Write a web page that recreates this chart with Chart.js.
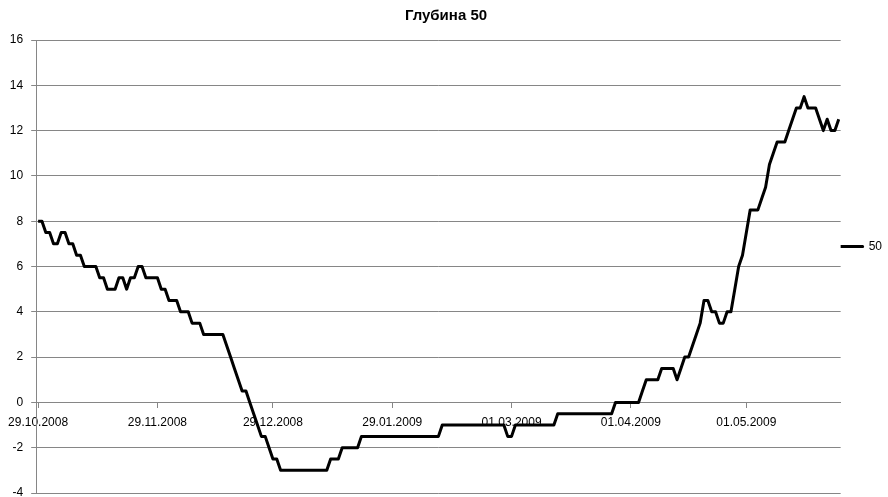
<!DOCTYPE html>
<html>
<head>
<meta charset="utf-8">
<script src="https://cdn.jsdelivr.net/npm/chart.js@4.4.1/dist/chart.umd.min.js"></script>
<style>
html, body { margin: 0; padding: 0; background: #fff; }
</style>
</head>
<body>
<canvas id="myChart" width="888" height="497"></canvas>
<script>
const titol = 'Глубина 50';
const serie = '50';

// first day of the series and number of daily readings
const dataInici = [2008, 10, 29];
const numDies = 209;

// dates that get a label on the x axis
const etiquetesEix = ['29.10.2008', '29.11.2008', '29.12.2008', '29.01.2009', '01.03.2009', '01.04.2009', '01.05.2009'];

// one value per day
const valors = [
    8, 8, 7.5, 7.5, 7, 7, 7.5, 7.5, 7, 7,
    6.5, 6.5, 6, 6, 6, 6, 5.5, 5.5, 5, 5,
    5, 5.5, 5.5, 5, 5.5, 5.5, 6, 6, 5.5, 5.5,
    5.5, 5.5, 5, 5, 4.5, 4.5, 4.5, 4, 4, 4,
    3.5, 3.5, 3.5, 3, 3, 3, 3, 3, 3, 2.5,
    2, 1.5, 1, 0.5, 0.5, 0, -0.5, -1, -1.5, -1.5,
    -2, -2.5, -2.5, -3, -3, -3, -3, -3, -3, -3,
    -3, -3, -3, -3, -3, -3, -2.5, -2.5, -2.5, -2,
    -2, -2, -2, -2, -1.5, -1.5, -1.5, -1.5, -1.5, -1.5,
    -1.5, -1.5, -1.5, -1.5, -1.5, -1.5, -1.5, -1.5, -1.5, -1.5,
    -1.5, -1.5, -1.5, -1.5, -1.5, -1, -1, -1, -1, -1,
    -1, -1, -1, -1, -1, -1, -1, -1, -1, -1,
    -1, -1, -1.5, -1.5, -1, -1, -1, -1, -1, -1,
    -1, -1, -1, -1, -1, -0.5, -0.5, -0.5, -0.5, -0.5,
    -0.5, -0.5, -0.5, -0.5, -0.5, -0.5, -0.5, -0.5, -0.5, -0.5,
    0, 0, 0, 0, 0, 0, 0, 0.5, 1, 1,
    1, 1, 1.5, 1.5, 1.5, 1.5, 1, 1.5, 2, 2,
    2.5, 3, 3.5, 4.5, 4.5, 4, 4, 3.5, 3.5, 4,
    4, 5, 6, 6.5, 7.5, 8.5, 8.5, 8.5, 9, 9.5,
    10.5, 11, 11.5, 11.5, 11.5, 12, 12.5, 13, 13, 13.5,
    13, 13, 13, 12.5, 12, 12.5, 12, 12, 12.5
];

const font = { family: 'Liberation Sans', size: 12 };

function dies() {
    const d = new Date(Date.UTC(dataInici[0], dataInici[1] - 1, dataInici[2]));
    const out = [];
    for (let i = 0; i < numDies; i++) {
        const dd = String(d.getUTCDate()).padStart(2, '0');
        const mm = String(d.getUTCMonth() + 1).padStart(2, '0');
        out.push(dd + '.' + mm + '.' + d.getUTCFullYear());
        d.setUTCDate(d.getUTCDate() + 1);
    }
    return out;
}

function pintar() {
    const ctx = document.getElementById('myChart').getContext('2d');
    new Chart(ctx, {
        type: 'line',
        data: {
            labels: dies(),
            datasets: [
                {
                    label: serie,
                    data: valors,
                    borderColor: '#000',
                    backgroundColor: '#000',
                    borderWidth: 3,
                    borderJoinStyle: 'round',
                    pointRadius: 0,
                    tension: 0
                }
            ]
        },
        options: {
            responsive: false,
            animation: false,
            layout: { padding: { top: 0, bottom: 4, left: 0, right: -4 } },
            plugins: {
                title: {
                    display: true,
                    text: titol,
                    color: '#000',
                    font: { family: 'Liberation Sans', size: 15, weight: 'bold' },
                    padding: { top: 7, bottom: 15 }
                },
                legend: {
                    position: 'right',
                    labels: {
                        boxWidth: 22,
                        boxHeight: 0,
                        padding: 0,
                        color: '#000',
                        font: font
                    }
                },
                tooltip: { enabled: false }
            },
            scales: {
                x: {
                    position: { y: 0 },
                    offset: true,
                    grid: { display: true, drawOnChartArea: false, tickLength: 5, color: '#868686' },
                    border: { color: '#868686' },
                    ticks: {
                        autoSkip: false,
                        maxRotation: 0,
                        color: '#000',
                        font: font,
                        padding: 8,
                        callback: function(value) {
                            const l = this.getLabelForValue(value);
                            return etiquetesEix.includes(l) ? l : null;
                        }
                    },
                    afterFit: function(scale) { scale.height = 0; }
                },
                y: {
                    min: -4,
                    max: 16,
                    ticks: { stepSize: 2, color: '#000', font: font, padding: 8 },
                    grid: { color: '#868686', tickLength: 5 },
                    border: { color: '#868686' },
                    afterFit: function(scale) {
                        scale.width = 35;
                        scale.paddingBottom = 0;
                    }
                }
            }
        }
    });
}

pintar();
</script>
</body>
</html>
